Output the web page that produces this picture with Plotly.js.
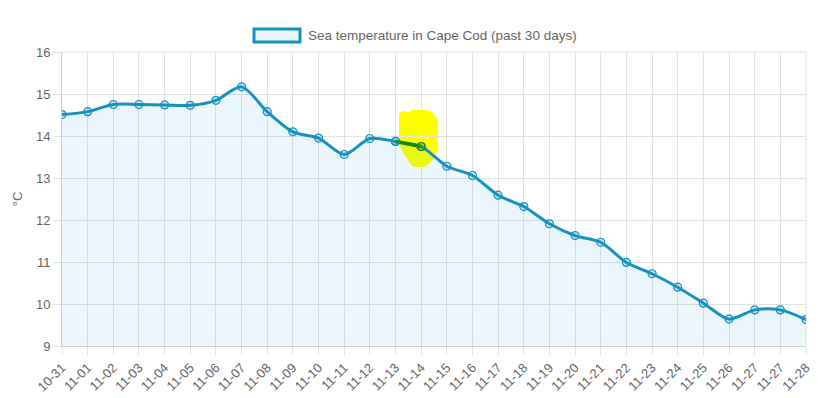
<!DOCTYPE html>
<html>
<head>
<meta charset="utf-8">
<script src="https://cdn.plot.ly/plotly-3.0.1.min.js"></script>
<style>html,body{margin:0;padding:0;background:#fff;}#chart{width:826px;height:398px;}</style>
</head>
<body>
<div id="chart"></div>
<script>
const labels = ["10-31","11-01","11-02","11-03","11-04","11-05","11-06","11-07","11-08","11-09","11-10","11-11","11-12","11-13","11-14","11-15","11-16","11-17","11-18","11-19","11-20","11-21","11-22","11-23","11-24","11-25","11-26","11-27","11-27","11-28"];
const temps = [14.51,14.58,14.75,14.75,14.74,14.73,14.85,15.17,14.58,14.10,13.95,13.56,13.94,13.87,13.75,13.28,13.06,12.59,12.32,11.91,11.63,11.47,10.99,10.72,10.40,10.02,9.64,9.86,9.86,9.63];
const seriesName = "Sea temperature in Cape Cod (past 30 days)";
const highlightFrom = 13, highlightTo = 14;

const idx = labels.map((_, i) => i);
const W = 826, H = 398, L = 62, R = 20, T = 52, B = 52;
const pw = W - L - R, ph = H - T - B;
const px = v => (v - L) / pw;          // pixel -> paper x
const py = v => (H - B - v) / ph;      // pixel -> paper y

const blue = "rgb(22,146,192)";
const green = "rgb(24,136,0)";
const font = "Liberation Sans, Arial, Helvetica, sans-serif";

const main = {
  x: idx, y: temps, type: "scatter", mode: "lines+markers",
  line: {color: blue, width: 3, shape: "spline", smoothing: 0.8},
  marker: {symbol: "circle", size: 8, color: "rgba(22,146,192,0.18)", line: {color: blue, width: 1.2}},
  fill: "tozeroy", fillcolor: "rgba(23,162,230,0.085)",
  hoverinfo: "skip", showlegend: false
};
const hx = idx.slice(highlightFrom, highlightTo + 1);
const hy = temps.slice(highlightFrom, highlightTo + 1);
const hl = {
  x: hx, y: hy, type: "scatter", mode: "lines+markers",
  line: {color: green, width: 3.5},
  marker: {size: 8, color: ["rgba(22,146,192,0.18)", "rgba(40,150,0,0.25)"], line: {color: [blue, green], width: 1.2}},
  hoverinfo: "skip", showlegend: false
};

// highlighter blob outline (pixel outline -> paper)
const blob = [[399,114],[401,112],[405,111],[409,112],[412,110],[426,110],[430,111],[434,114],[437,118],[438,124],[438,150],[434,158],[429,164],[425,167],[413,167],[410,163],[404,154],[400,146],[399,140]];
const blobPath = blob.map((p, i) => (i ? "L" : "M") + px(p[0]).toFixed(4) + "," + py(p[1]).toFixed(4)).join(" ") + " Z";

const layout = {
  width: W, height: H,
  margin: {l: L, r: R, t: T, b: B},
  paper_bgcolor: "#fff", plot_bgcolor: "rgba(0,0,0,0)",
  font: {family: font, size: 12, color: "#666"},
  showlegend: false,
  xaxis: {
    range: [0, labels.length - 1], tickmode: "array", tickvals: idx, ticktext: labels,
    tickangle: -45, ticks: "outside", ticklen: 8, tickcolor: "#e2e2e2",
    showgrid: true, gridcolor: "#e2e2e2", gridwidth: 1,
    showline: true, linecolor: "#cfcfcf", linewidth: 1, zeroline: false,
    tickfont: {size: 13, color: "#666"}
  },
  yaxis: {
    range: [9, 16], dtick: 1, ticks: "outside", ticklen: 8, tickcolor: "#e2e2e2",
    showgrid: true, gridcolor: "#e2e2e2", gridwidth: 1,
    showline: true, linecolor: "#cfcfcf", linewidth: 1, zeroline: false,
    tickfont: {size: 13, color: "#666"},
    title: {text: "°C", font: {size: 13, color: "#666"}, standoff: 10}
  },
  shapes: [
    {type: "path", xref: "paper", yref: "paper", path: blobPath, fillcolor: "#ffff00", line: {width: 0}, layer: "below"},
    {type: "line", xref: "paper", yref: "paper", x0: 1, x1: 1, y0: 0, y1: 1, line: {color: "#e2e2e2", width: 1}, layer: "below"},
    {type: "line", xref: "paper", yref: "paper", x0: 0, x1: 1, y0: 1, y1: 1, line: {color: "#e2e2e2", width: 1}, layer: "below"},
    {type: "rect", xref: "paper", yref: "paper", x0: px(254), x1: px(300), y0: py(42), y1: py(29),
     fillcolor: "rgba(23,162,230,0.085)", line: {color: blue, width: 3}}
  ],
  annotations: [
    {xref: "paper", yref: "paper", x: px(306), y: py(35.5), xanchor: "left", yanchor: "middle",
     text: seriesName, showarrow: false, font: {size: 13.5, color: "#666"}}
  ]
};

Plotly.newPlot("chart", [main, hl], layout, {displayModeBar: false, staticPlot: true});
</script>
</body>
</html>
